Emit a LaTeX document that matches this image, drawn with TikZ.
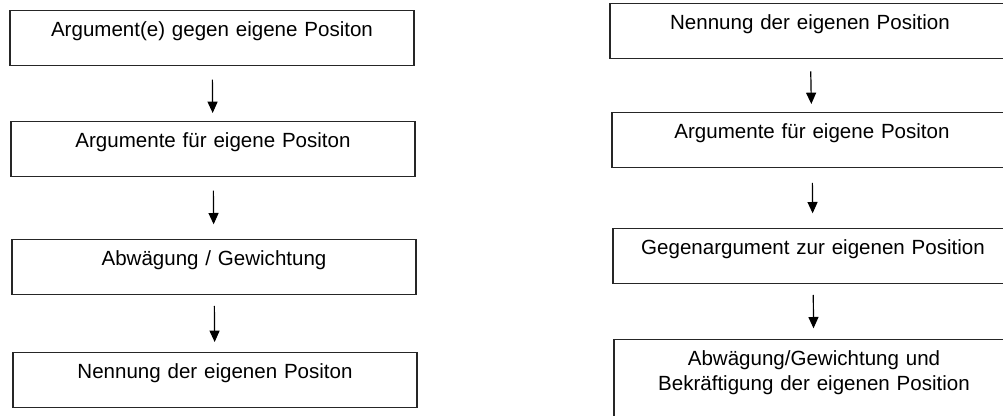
\documentclass[tikz,border=0pt]{standalone}
\usepackage{fontspec}
\setmainfont{Liberation Sans}
\usetikzlibrary{arrows.meta}

\tikzset{
    stepbox/.style={draw=black!85, line width=1pt, anchor=north, align=center,
        text width=#1, inner xsep=0pt, inner ysep=0pt,
        text height=19.5pt, text depth=21.75pt,
        font=\fontsize{15.4pt}{18.75pt}\selectfont},
    stepbox/.default=303pt,
    flow/.style={->, line width=0.9pt, shorten <=10pt, shorten >=6pt}
}

\begin{document}
\begin{tikzpicture} [x=0.75pt, y=-0.75pt, >={Triangle[length=8.5pt, width=7.5pt]}]
        \useasboundingbox (0,0) rectangle (1003,416);
        \clip (0,0) rectangle (1003,416);

        % left chain
        \node[stepbox] (gegen) at (212,10) {Argument(e) gegen eigene Positon};
        \node[stepbox] (fuer) at (213,121) {Argumente für eigene Positon};
        \node[stepbox] (abw) at (214,239) {Abwägung / Gewichtung};
        \node[stepbox] (nennung) at (215,352) {Nennung der eigenen Positon};

        \draw[flow] (gegen) -- (fuer);
        \draw[flow, shorten >=11pt] (fuer) -- (abw);
        \draw[flow, shorten <=8pt, shorten >=7.5pt] (abw) -- (nennung);

        % right chain
        \node[stepbox=300pt] (rnennung) at (810,3) {Nennung der eigenen Position};
        \node[stepbox=300pt] (rfuer) at (812,112) {Argumente für eigene Positon};
        \node[stepbox=300pt] (rgegen) at (813,228) {Gegenargument zur eigenen Position};
        \node[stepbox=300pt, text depth=60pt] (rabw) at (814,339)
            {Abwägung/Gewichtung und\\Bekräftigung der eigenen Position};

        \draw[flow, shorten <=9pt] (rnennung) -- (rfuer);
        \draw[flow, shorten <=11pt, shorten >=11pt] (rfuer) -- (rgegen);
        \draw[flow, shorten <=8pt, shorten >=8pt] (rgegen) -- (rabw);
    \end{tikzpicture}
\end{document}
